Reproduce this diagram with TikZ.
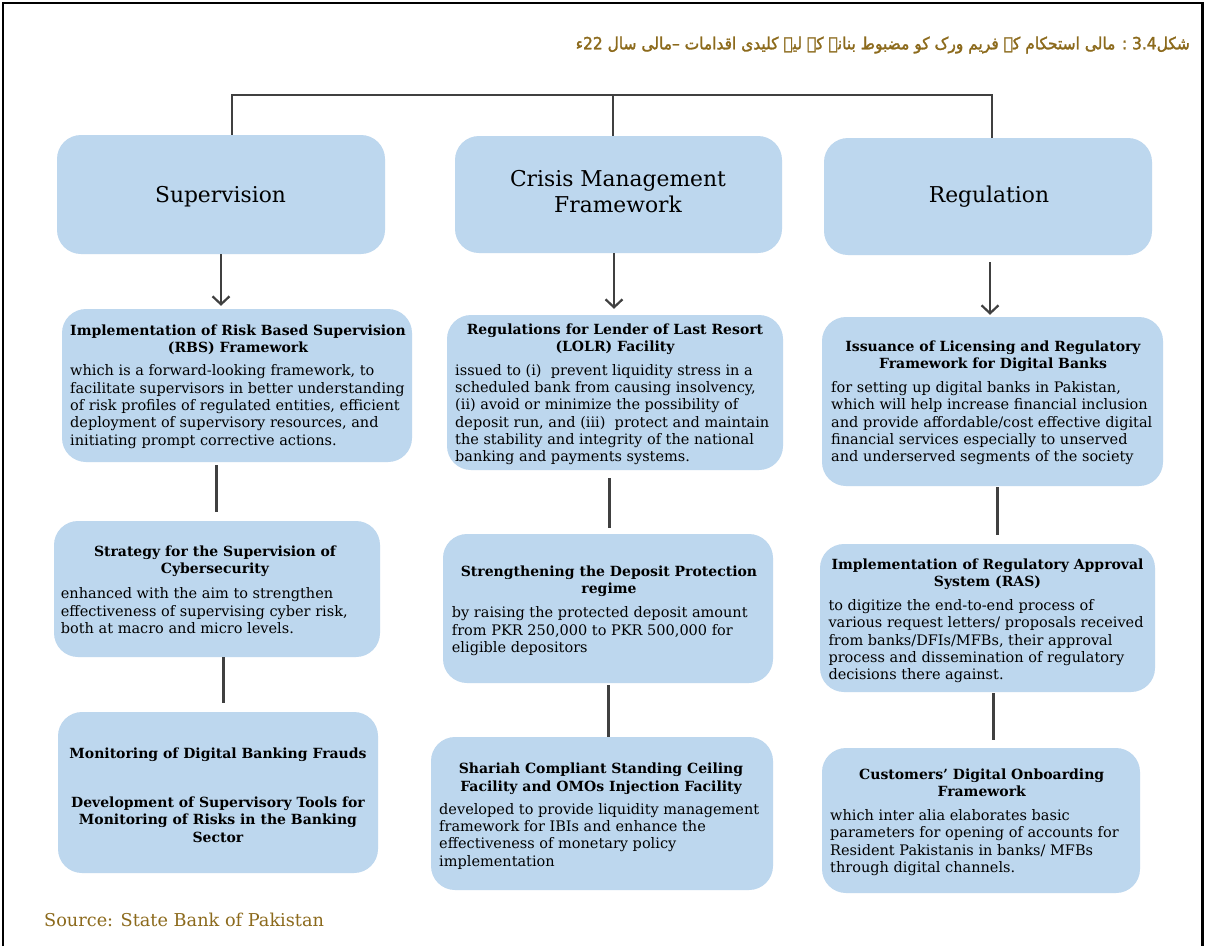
\documentclass[tikz,border=0pt]{standalone}
\usepackage{fontspec}
\setmainfont{DejaVu Serif}
\newfontfamily\urdufont[Script=Arabic,FakeBold=1.6,FakeStretch=0.92]{DejaVu Sans}
\TeXXeTstate=1
\usetikzlibrary{arrows.meta}
\definecolor{boxblue}{HTML}{BDD7EE}
\definecolor{linkgray}{HTML}{404040}
\definecolor{goldbrown}{HTML}{8C6A1C}

\begin{document}
\begin{tikzpicture}[x=1pt,y=-1pt,
  panel/.style={rectangle, rounded corners=24pt, fill=boxblue, draw=none, inner sep=0pt},
  toptext/.style={font=\fontsize{21.8}{26}\selectfont, align=center, inner sep=0pt,
    execute at begin node=\strut, execute at end node=\strut},
  headtext/.style={font=\bfseries\fontsize{14}{17.4}\selectfont, align=center, inner sep=0pt,
    execute at begin node=\strut, execute at end node=\strut},
  bodytext/.style={font=\fontsize{14.5}{17.3}\selectfont, align=left, inner sep=0pt, anchor=west,
    execute at begin node=\strut, execute at end node=\strut},
  bus/.style={draw=linkgray, line width=1.8pt},
  arrowlink/.style={draw=linkgray, line width=2.2pt, -{Straight Barb[length=8pt,width=17pt]}},
  link/.style={draw=linkgray, line width=3pt}
]
\useasboundingbox (0,0) rectangle (1206,946);
\fill[white] (0,0) rectangle (1206,946);
% outer frame
\draw[line width=2.2pt] (3,946) -- (3,3) -- (1202.5,3) -- (1202.5,946);

% title
\node[anchor=east, inner sep=0pt, text=goldbrown, font=\urdufont\fontsize{16.8}{20}\selectfont] (title) at (1190,45)
  {\beginR شکل\beginL 3.4\endL\ : مالی استحکام کے فریم ورک کو مضبوط بنانے کے لیے کلیدی اقدامات –\kern0pt مالی سال \beginL 22\endL ء\endR};

% header boxes
\node[panel, minimum width=328pt, minimum height=119pt] (sup) at (221,194.5) {};
\node[panel, minimum width=327pt, minimum height=117pt] (cmf) at (618.5,194.5) {};
\node[panel, minimum width=328pt, minimum height=117pt] (reg) at (988,196.5) {};
\node[toptext] (supT) at (220.5,196.8) {Supervision};
\node[toptext] (cmfT) at (618,195.3) {Crisis Management\\Framework};
\node[toptext] (regT) at (989,197.3) {Regulation};

% second row
\node[panel, minimum width=350pt, minimum height=153pt] (rbs) at (237,385.5) {};
\node[panel, minimum width=336pt, minimum height=155pt] (lolr) at (615,392.5) {};
\node[panel, minimum width=341pt, minimum height=169pt] (lic) at (992.5,401.5) {};
% third row
\node[panel, minimum width=326pt, minimum height=136pt] (cyb) at (217,589) {};
\node[panel, minimum width=330pt, minimum height=149pt] (dep) at (608,608.5) {};
\node[panel, minimum width=335pt, minimum height=148pt] (ras) at (987.5,618) {};
% fourth row
\node[panel, minimum width=320pt, minimum height=161pt] (mon) at (218,792.5) {};
\node[panel, minimum width=342pt, minimum height=153pt] (sha) at (602,813.5) {};
\node[panel, minimum width=318pt, minimum height=145pt] (cus) at (981,820.5) {};

% box texts
\node[headtext] (rbsH) at (238,341.5) {Implementation of Risk Based Supervision\\(RBS) Framework};
\node[bodytext] (rbsB) at (70,407.5) {which is a forward-looking framework, to\\facilitate supervisors in better understanding\\of risk profiles of regulated entities, efficient\\deployment of supervisory resources, and\\initiating prompt corrective actions.};

\node[headtext] (lolrH) at (615,340) {Regulations for Lender of Last Resort\\(LOLR) Facility};
\node[bodytext] (lolrB) at (455,415.5) {issued to (i)\ \ prevent liquidity stress in a\\scheduled bank from causing insolvency,\\(ii) avoid or minimize the possibility of\\deposit run, and (iii)\ \ protect and maintain\\the stability and integrity of the national\\banking and payments systems.};

\node[headtext] (licH) at (993,357.5) {Issuance of Licensing and Regulatory\\Framework for Digital Banks};
\node[bodytext] (licB) at (831,424.2) {for setting up digital banks in Pakistan,\\which will help increase financial inclusion\\and provide affordable/cost effective digital\\financial services especially to unserved\\and underserved segments of the society};

\node[headtext] (cybH) at (215,562) {Strategy for the Supervision of\\Cybersecurity};
\node[bodytext] (cybB) at (60.7,613.2) {enhanced with the aim to strengthen\\effectiveness of supervising cyber risk,\\both at macro and micro levels.};

\node[headtext] (depH) at (609,582) {Strengthening the Deposit Protection\\regime};
\node[bodytext] (depB) at (451.7,632.3) {by raising the protected deposit amount\\from PKR 250,000 to PKR 500,000 for\\eligible depositors};

\node[headtext] (rasH) at (987.5,575.3) {Implementation of Regulatory Approval\\System (RAS)};
\node[bodytext] (rasB) at (828.3,642.3) {to digitize the end-to-end process of\\various request letters/ proposals received\\from banks/DFIs/MFBs, their approval\\process and dissemination of regulatory\\decisions there against.};

\node[headtext] (monH) at (218,755.3) {Monitoring of Digital Banking Frauds};
\node[headtext] (devH) at (218,822) {Development of Supervisory Tools for\\Monitoring of Risks in the Banking\\Sector};

\node[headtext] (shaH) at (601,779.7) {Shariah Compliant Standing Ceiling\\Facility and OMOs Injection Facility};
\node[bodytext] (shaB) at (439,837.3) {developed to provide liquidity management\\framework for IBIs and enhance the\\effectiveness of monetary policy\\implementation};

\node[headtext] (cusH) at (981.7,785.3) {Customers' Digital Onboarding\\Framework};
\node[bodytext] (cusB) at (830,843.5) {which inter alia elaborates basic\\parameters for opening of accounts for\\Resident Pakistanis in banks/ MFBs\\through digital channels.};

% source line
\node[anchor=base west, inner sep=0pt, text=goldbrown, font=\fontsize{17.7}{20}\selectfont] (src) at (44,926.7) {Source: State Bank of Pakistan};

% top bracket joining the three headers
\coordinate (busL) at (232,95);
\coordinate (busM) at (613,95);
\coordinate (busR) at (992,95);
\draw[bus] (busL |- sup.north) -- (busL) -- (busR) -- (busR |- reg.north);
\draw[bus] (busM) -- (busM |- cmf.north);

% arrows from headers to first items
\coordinate (colA) at (221,0);
\coordinate (colB) at (614,0);
\coordinate (colC) at (990,0);
\draw[arrowlink, shorten >=3pt] (colA |- sup.south) -- (colA |- rbs.north);
\draw[arrowlink, shorten >=6pt] (colB |- cmf.south) -- (colB |- lolr.north);
\draw[arrowlink, shorten <=7pt, shorten >=2pt] (colC |- reg.south) -- (colC |- lic.north);

% plain links between items
\coordinate (l1) at (216,0);
\coordinate (l2) at (609,0);
\coordinate (l3) at (997,0);
\coordinate (l4) at (223,0);
\coordinate (l5) at (608,0);
\coordinate (l6) at (993,0);
\draw[link, shorten <=3pt, shorten >=9pt] (l1 |- rbs.south) -- (l1 |- cyb.north);
\draw[link, shorten <=8pt, shorten >=6pt] (l2 |- lolr.south) -- (l2 |- dep.north);
\draw[link, shorten <=1pt, shorten >=9pt] (l3 |- lic.south) -- (l3 |- ras.north);
\draw[link, shorten >=9pt] (l4 |- cyb.south) -- (l4 |- mon.north);
\draw[link, shorten <=2pt] (l5 |- dep.south) -- (l5 |- sha.north);
\draw[link, shorten <=1pt, shorten >=8pt] (l6 |- ras.south) -- (l6 |- cus.north);
\end{tikzpicture}
\end{document}
